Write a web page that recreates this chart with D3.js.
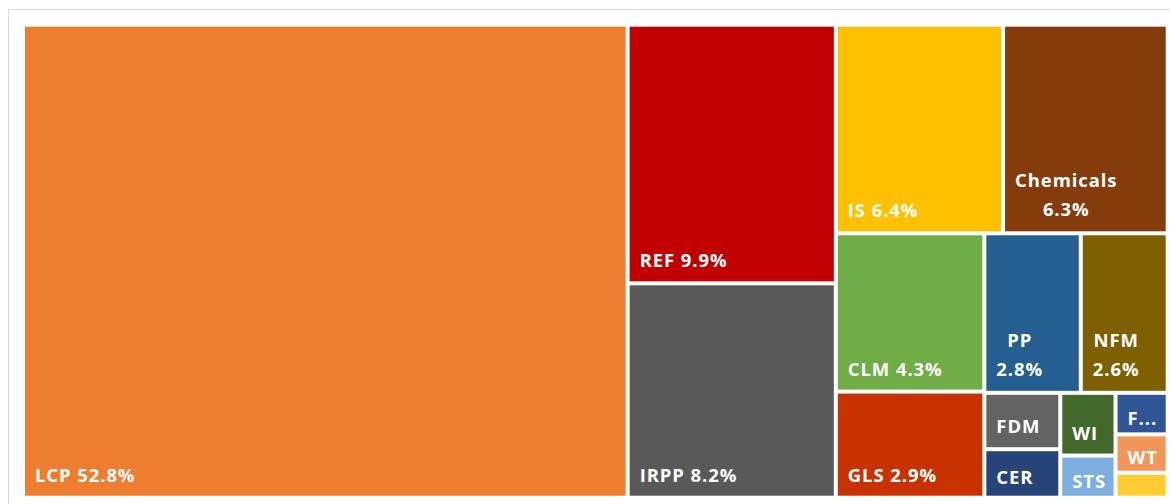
<!DOCTYPE html>
<html>
<head>
  <meta charset="utf-8">
  <script src="https://cdn.jsdelivr.net/npm/d3@7"></script>
  <style>
    body { margin: 0; background: #fff; }
    .tile-label {
      fill: #fff;
      font-family: "Open Sans", sans-serif;
      font-weight: bold;
      font-size: 18.5px;
      letter-spacing: 0.9px;
    }
  </style>
</head>
<body>
  <script type="text/javascript">
    // sector names and shares (%)
    var sectors = ["LCP", "REF", "IRPP", "IS", "Chemicals", "CLM", "GLS", "PP", "NFM",
                   "FDM", "CER", "WI", "STS", "F...", "WT", "Other"];
    var shares  = [52.8, 9.94, 8.24, 6.44, 6.34, 4.34, 2.91, 2.84, 2.56,
                   0.79, 0.68, 0.64, 0.43, 0.40, 0.37, 0.24];
    var colors  = ["#ED7D31", "#C00000", "#595959", "#FFC000", "#843C0C", "#70AD47", "#C83200", "#255E91", "#7F6000",
                   "#636363", "#264478", "#43682B", "#7CAFDD", "#2F5597", "#F1975A", "#FFCD33"];

    var W = 1170, H = 504;
    var plot = { left: 25, top: 26.7, width: 1140.7, height: 469 };

    var svg = d3.select("body").append("svg")
      .attr("width", W)
      .attr("height", H);

    // chart frame (runs off the bottom / right of the picture)
    svg.append("rect")
      .attr("x", 8.5).attr("y", 9.5)
      .attr("width", 1180).attr("height", 520)
      .attr("fill", "none")
      .attr("stroke", "#d9d9d9");

    var root = d3.hierarchy({
        children: sectors.map(function (s, i) { return { name: s, value: shares[i], color: colors[i] }; })
      })
      .sum(function (d) { return d.value || 0; })
      .sort(function (a, b) { return b.value - a.value; });

    d3.treemap()
      .tile(d3.treemapSquarify.ratio(1))
      .size([plot.width, plot.height])
      .paddingInner(4)(root);

    var g = svg.append("g")
      .attr("transform", "translate(" + plot.left + "," + plot.top + ")");

    var cell = g.selectAll("g.cell")
      .data(root.leaves())
      .enter().append("g")
      .attr("class", "cell");

    cell.append("rect")
      .attr("x", function (d) { return d.x0; })
      .attr("y", function (d) { return d.y0; })
      .attr("width", function (d) { return d.x1 - d.x0; })
      .attr("height", function (d) { return d.y1 - d.y0; })
      .attr("fill", function (d) { return d.data.color; });

    // measure a string in the label font
    var probe = svg.append("text").attr("class", "tile-label").attr("x", -999).attr("y", -999);
    function textW(s) { probe.text(s); return probe.node().getComputedTextLength(); }

    var fmt = function (v) { return v.toFixed(1) + "%"; };

    cell.each(function (d) {
      var w = d.x1 - d.x0, h = d.y1 - d.y0;
      var name = d.data.name, pct = fmt(d.data.value);
      var room = w - 20;
      var sel = d3.select(this);
      var oneLine = name + " " + pct;

      if (h < 30) return; // too small for any label

      if (textW(oneLine) <= room && h >= 60) {
        sel.append("text").attr("class", "tile-label")
          .attr("x", d.x0 + 10)
          .attr("y", d.y1 - 14)
          .text(oneLine);
      } else if (h >= 70 && textW(name) <= room && textW(pct) <= room) {
        var bw = Math.max(textW(name), textW(pct));
        var cx = d.x0 + 10 + bw / 2;
        var t = sel.append("text").attr("class", "tile-label").attr("text-anchor", "middle");
        t.append("tspan").attr("x", cx).attr("y", d.y1 - 15 - 29).text(name);
        t.append("tspan").attr("x", cx).attr("y", d.y1 - 15).text(pct);
      } else if (textW(name) <= room + 6) {
        var pad = Math.min(14, Math.max(7, (h - 22) / 2));
        sel.append("text").attr("class", "tile-label")
          .attr("x", d.x0 + 10)
          .attr("y", d.y1 - pad)
          .text(name);
      }
    });

    probe.remove();
  </script>
</body>
</html>
